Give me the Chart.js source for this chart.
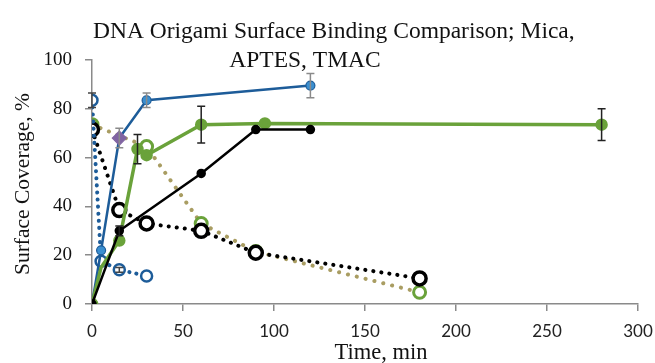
<!DOCTYPE html>
<html>
<head>
<meta charset="utf-8">
<script src="https://cdn.jsdelivr.net/npm/chart.js@4.4.0/dist/chart.umd.min.js"></script>
<style>
  html, body { margin: 0; padding: 0; background: #ffffff; }
  #wrap { width: 655px; height: 363px; }
</style>
</head>
<body>
<div id="wrap"><canvas id="c" width="655" height="363"></canvas></div>
<script>
// ---- Data ----
const titleLines = ["DNA Origami Surface Binding Comparison; Mica,", "APTES, TMAC"];
const xAxisTitle = "Time, min";
const yAxisTitle = "Surface Coverage, %";
const xTickValues = [0, 50, 100, 150, 200, 250, 300];
const yTickValues = [0, 20, 40, 60, 80, 100];

// Mica adsorption (solid blue)
const timeMicaAds = [0, 5, 15, 30, 120];
const covMicaAds  = [0, 22, 68, 83.5, 89.5];
const errMicaAds  = [0, 0, 4, 3, 5];

// APTES adsorption (solid green)
const timeAptesAds = [0, 5, 15, 25, 30, 60, 95, 280];
const covAptesAds  = [0, 15, 26, 63.5, 61, 73.5, 74, 73.5];
const errAptesAds  = [0, 0, 0, 6, 0, 7.5, 0, 6.5];

// TMAC adsorption (solid black)
const timeTmacAds = [0, 15, 60, 90, 120];
const covTmacAds  = [0, 30, 53.5, 71.5, 71.5];
const errTmacAds  = [0, 2, 0, 0, 0];

// Mica desorption (dotted blue)
const timeMicaDes = [0, 5, 15, 30];
const covMicaDes  = [83.5, 17.5, 14, 11.5];
const errMicaDes  = [3, 0, 1, 0];

// TMAC desorption (dotted black)
const timeTmacDes = [0, 15, 30, 60, 90, 180];
const covTmacDes  = [71.5, 38.5, 33, 30, 21, 10.5];

// APTES desorption (dotted tan)
const timeAptesDes = [0, 30, 60, 90, 180];
const covAptesDes  = [73.5, 64.5, 33, 21.5, 4.8];

function pts(xs, ys) { return xs.map((x, i) => ({ x: x, y: ys[i] })); }

const BLUE_LINE = '#1d5c99';
const BLUE_FILL = '#3a8fd0';
const GREEN = '#6aa23a';
const TAN = '#a99d62';
const PURPLE = '#8064a2';
const AXIS = '#8a8a8a';

const micaPointStyle = timeMicaAds.map((t, i) => i === 2 ? 'rectRot' : 'circle');
const micaPointBg = timeMicaAds.map((t, i) => i === 2 ? PURPLE : BLUE_FILL);
const micaPointBorder = timeMicaAds.map((t, i) => i === 2 ? PURPLE : BLUE_LINE);
const micaPointRadius = timeMicaAds.map((t, i) => i === 0 ? 0 : (i === 2 ? 7 : 4.5));

const datasets = [
  {
    label: 'TMAC adsorption', data: pts(timeTmacAds, covTmacAds), showLine: true,
    borderColor: '#000000', borderWidth: 2.5, pointRadius: 3.5,
    pointBackgroundColor: '#000000', pointBorderColor: '#000000',
    errors: errTmacAds, errorColor: '#222222'
  },
  {
    label: 'APTES adsorption', data: pts(timeAptesAds, covAptesAds), showLine: true,
    borderColor: GREEN, borderWidth: 3.5, pointRadius: timeAptesAds.map((t, i) => i === 1 ? 0 : 4.5),
    pointBackgroundColor: GREEN, pointBorderColor: GREEN,
    errors: errAptesAds, errorColor: '#222222'
  },
  {
    label: 'Mica adsorption', data: pts(timeMicaAds, covMicaAds), showLine: true,
    borderColor: BLUE_LINE, borderWidth: 2.5, pointRadius: micaPointRadius,
    pointStyle: micaPointStyle, pointBackgroundColor: micaPointBg, pointBorderColor: micaPointBorder,
    pointBorderWidth: 1.2,
    errors: errMicaAds, errorColor: '#8a8a8a'
  },
  {
    label: 'Mica desorption', data: pts(timeMicaDes, covMicaDes), showLine: true,
    borderColor: BLUE_LINE, borderWidth: 4, borderDash: [0.1, 7], borderCapStyle: 'round',
    pointRadius: 5.5, pointBorderWidth: 2.5, pointBackgroundColor: '#ffffff', pointBorderColor: BLUE_LINE,
    errors: errMicaDes, errorColor: '#444444'
  },
  {
    label: 'TMAC desorption', data: pts(timeTmacDes, covTmacDes), showLine: true,
    borderColor: '#000000', borderWidth: 4, borderDash: [0.1, 8], borderCapStyle: 'round',
    pointRadius: 6.5, pointBorderWidth: 3.5, pointBackgroundColor: '#ffffff', pointBorderColor: '#000000'
  },
  {
    label: 'APTES desorption', data: pts(timeAptesDes, covAptesDes), showLine: true,
    borderColor: TAN, borderWidth: 4, borderDash: [0.1, 9], borderCapStyle: 'round',
    pointRadius: 6, pointBorderWidth: 3, pointBackgroundColor: '#ffffff', pointBorderColor: GREEN
  }
];

const errorBarPlugin = {
  id: 'errorBars',
  afterDatasetsDraw(chart) {
    const ctx = chart.ctx;
    const xs = chart.scales.x, ys = chart.scales.y;
    chart.data.datasets.forEach((ds) => {
      if (!ds.errors) return;
      ctx.save();
      ctx.strokeStyle = ds.errorColor || '#000';
      ctx.lineWidth = 1.5;
      ds.data.forEach((p, i) => {
        const e = ds.errors[i];
        if (!e) return;
        const px = xs.getPixelForValue(p.x);
        const top = ys.getPixelForValue(p.y + e);
        const bot = ys.getPixelForValue(p.y - e);
        ctx.beginPath();
        ctx.moveTo(px, top); ctx.lineTo(px, bot);
        ctx.moveTo(px - 4, top); ctx.lineTo(px + 4, top);
        ctx.moveTo(px - 4, bot); ctx.lineTo(px + 4, bot);
        ctx.stroke();
      });
      ctx.restore();
    });
  }
};

const textPlugin = {
  id: 'customTexts',
  afterDraw(chart) {
    const ctx = chart.ctx;
    ctx.save();
    ctx.fillStyle = '#111111';
    ctx.textBaseline = 'alphabetic';
    ctx.font = '23.5px "Liberation Serif"';
    ctx.textAlign = 'left';
    ctx.fillText(titleLines[0], 93, 38);
    ctx.textAlign = 'center';
    ctx.fillText(titleLines[1], 305, 67);
    // x axis title
    ctx.font = '22.5px "Liberation Serif"';
    ctx.fillText(xAxisTitle, 381, 359);
    // y axis title
    ctx.font = '21.5px "Liberation Serif"';
    ctx.translate(29, 184);
    ctx.rotate(-Math.PI / 2);
    ctx.fillText(yAxisTitle, 0, 0);
    ctx.restore();
  }
};

new Chart(document.getElementById('c'), {
  type: 'scatter',
  data: { datasets: datasets },
  options: {
    responsive: false,
    animation: false,
    devicePixelRatio: 1,
    layout: { padding: { left: 0, right: 17, top: 60, bottom: 0 } },
    plugins: { legend: { display: false }, tooltip: { enabled: false }, title: { display: false } },
    scales: {
      x: {
        type: 'linear', min: 0, max: 300,
        afterBuildTicks: (s) => { s.ticks = xTickValues.map(v => ({ value: v })); },
        afterFit: (s) => { s.height = 59; s.paddingLeft = 0; s.paddingRight = 0; },
        border: { display: true, color: AXIS, width: 1.5 },
        grid: { drawOnChartArea: false, drawTicks: true, tickLength: 7, color: AXIS, lineWidth: 1.5 },
        ticks: { color: '#222222', font: { family: 'Lato', size: 17 }, padding: 10, maxRotation: 0 },
        title: { display: false }
      },
      y: {
        type: 'linear', min: 0, max: 100,
        afterBuildTicks: (s) => { s.ticks = yTickValues.map(v => ({ value: v })); },
        afterFit: (s) => { s.width = 92; s.paddingTop = 0; s.paddingBottom = 0; },
        border: { display: true, color: AXIS, width: 1.5 },
        grid: { drawOnChartArea: false, drawTicks: true, tickLength: 7, color: AXIS, lineWidth: 1.5 },
        ticks: { color: '#111111', font: { family: 'Liberation Serif', size: 19 }, padding: 13 },
        title: { display: false }
      }
    }
  },
  plugins: [errorBarPlugin, textPlugin]
});
</script>
</body>
</html>
